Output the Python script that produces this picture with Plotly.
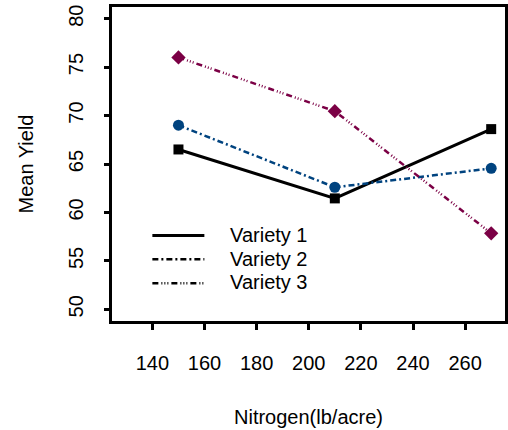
import plotly.graph_objects as go

nitrogen = [150, 210, 270]
variety1 = [66.5, 61.45, 68.6]
variety2 = [69.0, 62.6, 64.55]
variety3 = [76.0, 70.45, 57.85]
names = ["Variety 1", "Variety 2", "Variety 3"]
x_ticks = [140, 160, 180, 200, 220, 240, 260]
y_ticks = [50, 55, 60, 65, 70, 75, 80]

colors = ["#000000", "#00437f", "#7b0045"]
dashes = ["solid", "6px,3px,2px,3px", "6px,3px,1px,2px,1px,2px,1px,3px"]
symbols = ["square", "circle", "diamond"]
msizes = [10, 11, 11]
widths = [3, 2.5, 2.5]

FONT = "Liberation Sans, Arial, sans-serif"
fig = go.Figure()
for ys, c, d, s, ms, w in zip([variety1, variety2, variety3], colors, dashes, symbols, msizes, widths):
    fig.add_trace(go.Scatter(x=nitrogen, y=ys, mode="lines+markers",
                             line=dict(color=c, dash=d, width=w),
                             marker=dict(symbol=s, size=ms, color=c),
                             showlegend=False, hoverinfo="skip"))
# legend entries (black lines, no markers)
for n, d, w in zip(names, dashes, widths):
    label = '<span style="font-size:20px">\u00a0\u00a0\u00a0\u2009' + n + '</span>'
    fig.add_trace(go.Scatter(x=[None], y=[None], mode="lines", name=label,
                             line=dict(color="black", dash=d, width=w)))

fig.update_layout(
    width=508, height=430,
    margin=dict(l=112, r=3, t=7, b=109),
    paper_bgcolor="white", plot_bgcolor="white",
    font=dict(family=FONT, size=20, color="black"),
    legend=dict(x=0.09, y=0.326, xanchor="left", yanchor="top",
                bgcolor="rgba(0,0,0,0)", font=dict(size=16), itemwidth=52,
                tracegroupgap=0),
    showlegend=True,
)
fig.update_xaxes(range=[124.5, 275.3], tickvals=x_ticks, ticks="outside", ticklen=6,
                 tickwidth=2.5, tickcolor="black", showline=True, linewidth=2.5,
                 linecolor="black", mirror=True, showgrid=False, zeroline=False,
                 ticklabelstandoff=16, automargin=False,
                 title=dict(text="Nitrogen(lb/acre)", font=dict(size=20), standoff=38))
fig.update_yaxes(range=[48.8, 81.2], tickvals=y_ticks, ticks="outside", ticklen=5,
                 tickwidth=2.5, tickcolor="black", showline=True, linewidth=2.5,
                 linecolor="black", mirror=True, showgrid=False, zeroline=False,
                 tickangle=-90, ticklabelstandoff=13, automargin=False,
                 title=dict(text="Mean Yield", font=dict(size=20), standoff=27))
fig.write_html("out.html", config={"displayModeBar": False},
               post_script="document.body.style.margin='0px';"
                           "document.documentElement.style.overflow='hidden';"
                           "document.body.style.overflow='hidden';")
